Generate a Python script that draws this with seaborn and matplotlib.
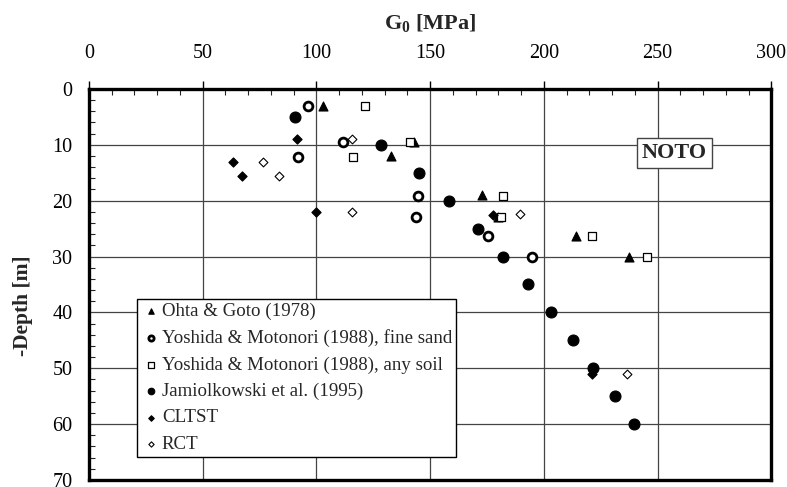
import matplotlib
matplotlib.use("Agg")
import matplotlib.pyplot as plt
from matplotlib.ticker import MultipleLocator
import seaborn as sns
import pandas as pd

# ---- data (G0 [MPa], depth [m]) ----
ohta_g = [103, 143, 133, 173, 180, 214, 237.5]
ohta_d = [3, 9.5, 12, 19, 23, 26.4, 30]

yfs_g = [96.5, 92, 111.5, 144.5, 143.8, 175.5, 195]
yfs_d = [3, 12.2, 9.5, 19.1, 23, 26.4, 30]

yas_g = [121.5, 141, 116.3, 182, 181.3, 221.3, 245.5]
yas_d = [3, 9.5, 12.1, 19.1, 22.9, 26.4, 30]

jam_g = [90.6, 128.5, 145.2, 158.4, 171, 182, 193, 203.3, 213, 221.7, 231.4, 239.8]
jam_d = [5, 10, 15, 20, 25, 30, 35, 40, 45, 50, 55, 60]

cltst_g = [63.5, 67.5, 91.6, 99.8, 177.7, 221]
cltst_d = [13, 15.5, 9, 22.1, 22.6, 51]

rct_g = [76.6, 83.5, 115.6, 115.6, 189.6, 236.7]
rct_d = [13, 15.5, 9, 22.1, 22.4, 51]

labels = ["Ohta & Goto (1978)",
          "Yoshida & Motonori (1988), fine sand",
          "Yoshida & Motonori (1988), any soil",
          "Jamiolkowski et al. (1995)",
          "CLTST",
          "RCT"]

x_ticks = [0, 50, 100, 150, 200, 250, 300]
y_ticks = [0, 10, 20, 30, 40, 50, 60, 70]

sns.set_style("white")
plt.rcParams['font.family'] = ['Liberation Serif', 'DejaVu Serif']
plt.rcParams['mathtext.fontset'] = 'custom'
plt.rcParams['mathtext.rm'] = 'Liberation Serif'
plt.rcParams['mathtext.bf'] = 'Liberation Serif:bold'

fig = plt.figure(figsize=(7.87, 4.87), dpi=100)
ax = fig.add_axes([0.113, 0.0144, 0.867, 0.803])

series = [
    (ohta_g, ohta_d, "^", "black", "black", 42, 0.8),
    (yfs_g, yfs_d, "o", "white", "black", 40, 2.0),
    (yas_g, yas_d, "s", "white", "black", 38, 0.9),
    (jam_g, jam_d, "o", "black", "black", 62, 0.8),
    (cltst_g, cltst_d, "D", "black", "black", 22, 0.8),
    (rct_g, rct_d, "D", "white", "black", 20, 0.8),
]

for (g, d, m, fc, ec, s, lw), lab in zip(series, labels):
    df = pd.DataFrame({"G": g, "D": d})
    sns.scatterplot(data=df, x="G", y="D", marker=m, s=s, color=fc,
                    edgecolor=ec, linewidth=lw, ax=ax, label=lab, zorder=3)

ax.set_xlim(0, 300)
ax.set_ylim(70, 0)
ax.set_xticks(x_ticks)
ax.set_yticks(y_ticks)
ax.xaxis.set_minor_locator(MultipleLocator(10))
ax.yaxis.set_minor_locator(MultipleLocator(2))
ax.xaxis.tick_top()
ax.xaxis.set_label_position("top")
ax.tick_params(axis="both", which="major", direction="out", length=6, width=1,
               labelsize=14.5, colors="black")
ax.tick_params(axis="x", which="major", pad=13)
ax.tick_params(axis="y", which="major", pad=6)
ax.tick_params(axis="both", which="minor", direction="in", length=4, width=0.8)
ax.tick_params(axis="x", which="minor", top=True, bottom=False)
ax.tick_params(axis="y", which="minor", left=True)

ax.grid(True, which="major", color="#444444", linewidth=0.9)
ax.set_axisbelow(True)
for sp in ax.spines.values():
    sp.set_visible(True)
    sp.set_linewidth(2.4)
    sp.set_color("black")

ax.set_xlabel(r"G$_\mathregular{0}$ [MPa]", fontsize=16, fontweight="bold", labelpad=10)
ax.set_ylabel("-Depth [m]", fontsize=15.5, fontweight="bold")
ax.yaxis.set_label_coords(-0.082, 0.445)

leg = ax.legend(loc="upper left", bbox_to_anchor=(0.071, 0.462), fontsize=13.6,
                frameon=True, fancybox=False, edgecolor="black", framealpha=1,
                handletextpad=0.1, borderpad=0.2, labelspacing=0.48,
                markerscale=0.6, handlelength=1.0, borderaxespad=0)
leg.get_frame().set_linewidth(1.0)

ax.text(257.5, 11.5, "NOTO", fontsize=16, fontweight="bold", ha="center", va="center",
        bbox=dict(boxstyle="square,pad=0.22", facecolor="white", edgecolor="#444444",
                  linewidth=1.0), zorder=4)

fig.savefig("out.png", dpi=100)
